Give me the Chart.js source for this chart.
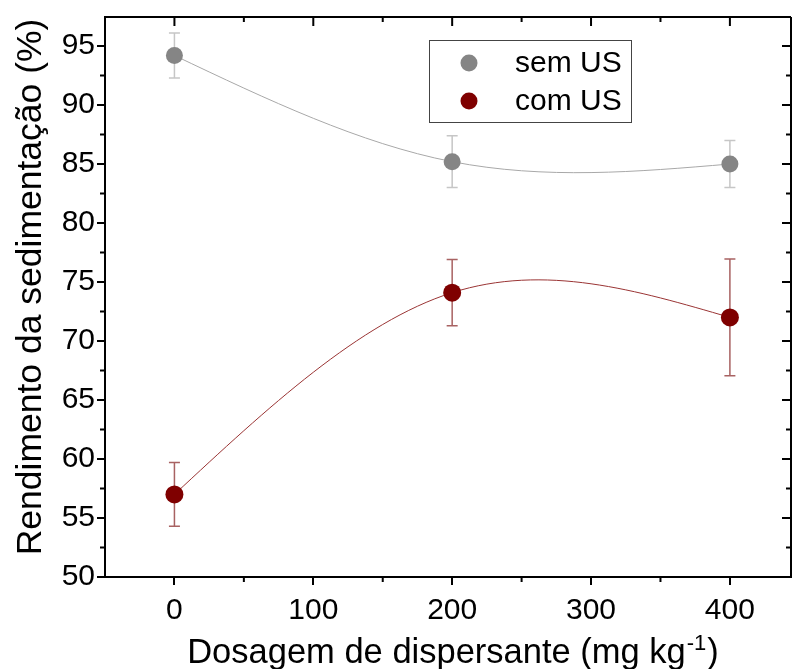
<!DOCTYPE html>
<html><head><meta charset="utf-8">
<script src="https://cdn.jsdelivr.net/npm/chart.js@4.4.1/dist/chart.umd.min.js"></script>
<style>html,body{margin:0;padding:0;background:#fff;overflow:hidden;width:792px;height:669px}#wrap{width:800px;height:669px}</style>
</head><body><div id="wrap"><canvas id="c" width="800" height="669"></canvas></div>
<script>
const doses=[0,200,400];
const semUS=[94.2,85.2,85.0];
const semErr=[1.9,2.2,2.0];
const comUS=[57.0,74.1,72.0];
const comErr=[2.7,2.8,4.95];
const xTicks=[0,100,200,300,400];
const xMinorTicks=[-50,50,150,250,350];
const yTicks=[50,55,60,65,70,75,80,85,90,95];
const yMinorTicks=[52.5,57.5,62.5,67.5,72.5,77.5,82.5,87.5,92.5,97.5];
const seriesLabels=['sem US','com US'];
const xTitle='Dosagem de dispersante (mg kg';
const xTitleSup='-1';
const xTitleEnd=')';
const yTitle='Rendimento da sedimentação (%)';

const FONT="'Liberation Sans', Arial, sans-serif";

// natural cubic spline slopes at the data nodes (used to set the library's own Bezier control points)
function splineSlopes(xs, ys){
  const n=xs.length, h=[], M=new Array(n).fill(0);
  for(let i=0;i<n-1;i++) h.push(xs[i+1]-xs[i]);
  if(n>2){
    const a=[],b=[],c=[],d=[];
    for(let i=1;i<n-1;i++){
      a.push(h[i-1]); b.push(2*(h[i-1]+h[i])); c.push(h[i]);
      d.push(6*((ys[i+1]-ys[i])/h[i]-(ys[i]-ys[i-1])/h[i-1]));
    }
    const m=b.length;
    for(let i=1;i<m;i++){const w=a[i]/b[i-1]; b[i]-=w*c[i-1]; d[i]-=w*d[i-1];}
    const sol=new Array(m);
    sol[m-1]=d[m-1]/b[m-1];
    for(let i=m-2;i>=0;i--) sol[i]=(d[i]-c[i]*sol[i+1])/b[i];
    for(let i=0;i<m;i++) M[i+1]=sol[i];
  }
  const out=[],inn=[];
  for(let i=0;i<n-1;i++){
    const s=(ys[i+1]-ys[i])/h[i];
    out[i]=s-h[i]*(2*M[i]+M[i+1])/6;
    inn[i+1]=s+h[i]*(M[i]+2*M[i+1])/6;
  }
  return {h,out,inn};
}

const extras={
  id:'extras',
  beforeDatasetsDraw(chart){
    const ctx=chart.ctx, xs=chart.scales.x, ys=chart.scales.y;
    chart.data.datasets.forEach((ds,di)=>{
      const meta=chart.getDatasetMeta(di);
      meta.dataset.updateControlPoints(chart.chartArea);
      const X=ds.data.map(p=>p.x), Y=ds.data.map(p=>p.y);
      const sp=splineSlopes(X,Y);
      meta.data.forEach((pt,i)=>{
        if(i<X.length-1){
          const dx=sp.h[i]/3;
          pt.cp2x=xs.getPixelForValue(X[i]+dx); pt.cp2y=ys.getPixelForValue(Y[i]+dx*sp.out[i]);
        }
        if(i>0){
          const dx=sp.h[i-1]/3;
          pt.cp1x=xs.getPixelForValue(X[i]-dx); pt.cp1y=ys.getPixelForValue(Y[i]-dx*sp.inn[i]);
        }
      });
    });
    chart.data.datasets.forEach(ds=>{
      ctx.save();
      ctx.strokeStyle=ds.errorColor; ctx.lineWidth=1.5;
      ds.data.forEach((p,i)=>{
        const e=ds.errors[i];
        const px=xs.getPixelForValue(p.x);
        const t=ys.getPixelForValue(p.y+e), b=ys.getPixelForValue(p.y-e);
        ctx.beginPath();
        ctx.moveTo(px,t);ctx.lineTo(px,b);
        ctx.moveTo(px-5.5,t);ctx.lineTo(px+5.5,t);
        ctx.moveTo(px-5.5,b);ctx.lineTo(px+5.5,b);
        ctx.stroke();
      });
      ctx.restore();
    });
  },
  afterDraw(chart){
    const ctx=chart.ctx, xs=chart.scales.x, ys=chart.scales.y, a=chart.chartArea;
    ctx.save();
    ctx.strokeStyle='#000'; ctx.lineWidth=2;
    ctx.beginPath();
    ctx.moveTo(a.left-1,a.top);ctx.lineTo(a.right,a.top);
    ctx.moveTo(a.right,a.top);ctx.lineTo(a.right,a.bottom);
    ctx.stroke();
    ctx.beginPath();
    xTicks.forEach(v=>{const px=xs.getPixelForValue(v);ctx.moveTo(px,a.top);ctx.lineTo(px,a.top+9);});
    xMinorTicks.forEach(v=>{const px=xs.getPixelForValue(v);if(px>a.left+1){ctx.moveTo(px,a.top);ctx.lineTo(px,a.top+5);ctx.moveTo(px,a.bottom);ctx.lineTo(px,a.bottom+5);}});
    yTicks.forEach(v=>{const py=ys.getPixelForValue(v);ctx.moveTo(a.right,py);ctx.lineTo(a.right-9,py);});
    yMinorTicks.forEach(v=>{const py=ys.getPixelForValue(v);if(py>a.top+1){ctx.moveTo(a.right,py);ctx.lineTo(a.right-5,py);ctx.moveTo(a.left,py);ctx.lineTo(a.left-5,py);}});
    ctx.stroke();
    // legend
    ctx.lineWidth=1; ctx.strokeStyle='#444';
    ctx.strokeRect(429.5,40.5,202,82);
    ctx.font='30px '+FONT; ctx.textBaseline='middle'; ctx.fillStyle='#000';
    chart.data.datasets.forEach((ds,i)=>{
      const cy=63+i*38;
      ctx.beginPath();ctx.fillStyle=ds.pointBackgroundColor;ctx.arc(469,cy,8.5,0,Math.PI*2);ctx.fill();
      ctx.fillStyle='#000';ctx.textAlign='left';ctx.fillText(ds.label,515,cy+1);
    });
    // x title
    ctx.textBaseline='alphabetic';ctx.textAlign='left';
    const f1='34.5px '+FONT, f2='22px '+FONT;
    ctx.font=f1; const w1=ctx.measureText(xTitle).width, w3=ctx.measureText(xTitleEnd).width;
    ctx.font=f2; const w2=ctx.measureText(xTitleSup).width;
    let x0=453-(w1+w2+w3+2)/2; const base=663;
    ctx.font=f1; ctx.fillText(xTitle,x0,base);
    ctx.font=f2; ctx.fillText(xTitleSup,x0+w1+1,base-13);
    ctx.font=f1; ctx.fillText(xTitleEnd,x0+w1+w2+2,base);
    // y title
    ctx.save();
    ctx.translate(41,287);ctx.rotate(-Math.PI/2);
    ctx.font='35.5px '+FONT;ctx.textAlign='center';ctx.fillText(yTitle,0,0);
    ctx.restore();
    ctx.restore();
  }
};

new Chart(document.getElementById('c'),{
  type:'line',
  data:{datasets:[
    {label:seriesLabels[0],data:doses.map((x,i)=>({x:x,y:semUS[i]})),errors:semErr,errorColor:'#c6c6c6',
     borderColor:'#a8a8a8',borderWidth:1,tension:0.4,pointRadius:8.5,pointHoverRadius:8.5,pointBorderWidth:0,
     pointBackgroundColor:'#858585',pointBorderColor:'#858585'},
    {label:seriesLabels[1],data:doses.map((x,i)=>({x:x,y:comUS[i]})),errors:comErr,errorColor:'#a86262',
     borderColor:'#9a3434',borderWidth:1,tension:0.4,pointRadius:9,pointHoverRadius:9,pointBorderWidth:0,
     pointBackgroundColor:'#7f0000',pointBorderColor:'#7f0000'}
  ]},
  options:{
    responsive:false,animation:false,
    layout:{padding:{left:0,top:16,right:7,bottom:0}},
    plugins:{legend:{display:false},tooltip:{enabled:false}},
    scales:{
      x:{type:'linear',min:-50,max:444,
        afterBuildTicks:s=>{s.ticks=xTicks.map(v=>({value:v}));},
        afterFit:s=>{s.height=92;},
        grid:{display:true,drawOnChartArea:false,drawTicks:true,tickLength:8,color:'#000',lineWidth:2},
        border:{display:true,color:'#000',width:2},
        ticks:{font:{family:FONT,size:30},color:'#000',padding:8,maxRotation:0}},
      y:{type:'linear',min:50,max:97.46,
        afterBuildTicks:s=>{s.ticks=yTicks.map(v=>({value:v}));},
        afterFit:s=>{s.width=105;},
        grid:{display:true,drawOnChartArea:false,drawTicks:true,tickLength:8,color:'#000',lineWidth:2},
        border:{display:true,color:'#000',width:2},
        ticks:{font:{family:FONT,size:30,lineHeight:1.0},color:'#000',padding:2}}
    }
  },
  plugins:[extras]
});
</script></body></html>
